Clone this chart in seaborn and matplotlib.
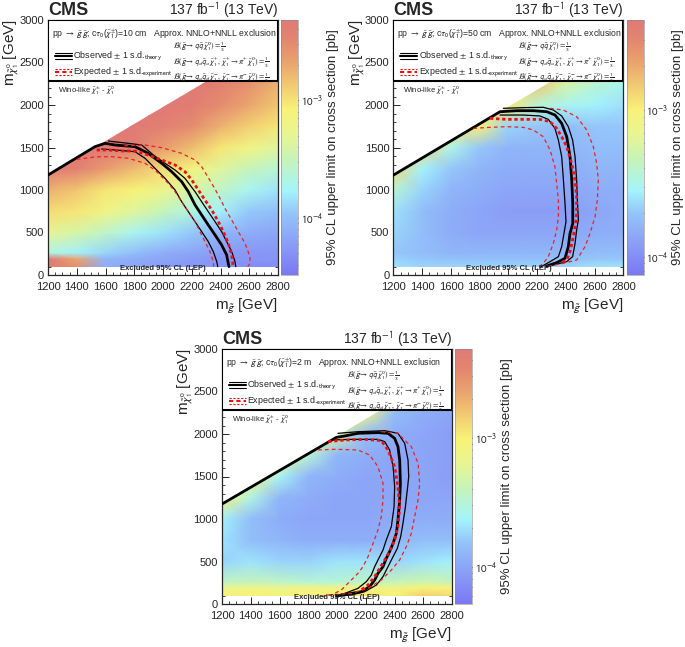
"""
CMS gluino -> chargino/neutralino exclusion limits for three chargino lifetimes
"""
import numpy as np
import matplotlib
matplotlib.use("Agg")
import matplotlib.pyplot as plt
from matplotlib.colors import LinearSegmentedColormap, LogNorm
from matplotlib.patches import Polygon, Rectangle
from matplotlib.ticker import MultipleLocator, LogLocator, NullFormatter
import seaborn as sns

sns.set_style("ticks")
plt.rcParams['font.family'] = ['Liberation Sans', 'DejaVu Sans']
plt.rcParams['mathtext.fontset'] = 'stixsans'

# grid of the limit maps
mg_nodes = [1200, 1400, 1600, 1800, 2000, 2200, 2400, 2600, 2800]
mchi_nodes = [100, 190, 260, 500, 750, 1000, 1250, 1500, 1750, 2000, 2250, 2500, 2750, 3000]

# log10 of the 95% CL upper limit on the cross section [pb], one row per mchi node
limit_10cm = [
    [-2.30, -2.55, -4.12, -4.17, -4.23, -4.28, -4.28, -4.34, -4.34],
    [-2.30, -2.70, -4.06, -4.12, -4.17, -4.23, -4.28, -4.28, -4.28],
    [-3.68, -3.79, -3.90, -4.01, -4.12, -4.17, -4.23, -4.28, -4.28],
    [-3.30, -3.41, -3.57, -3.73, -3.84, -3.95, -4.06, -4.12, -4.17],
    [-2.97, -3.02, -3.19, -3.35, -3.52, -3.68, -3.79, -3.95, -4.01],
    [-2.75, -2.86, -3.02, -3.08, -3.24, -3.41, -3.57, -3.73, -3.84],
    [-2.36, -2.42, -2.64, -2.80, -2.97, -3.13, -3.35, -3.52, -3.62],
    [-2.31, -2.31, -2.31, -2.42, -2.64, -2.80, -3.02, -3.19, -3.35],
    [-2.31, -2.31, -2.31, -2.31, -2.42, -2.53, -2.75, -2.91, -3.02],
    [-2.31, -2.31, -2.31, -2.31, -2.31, -2.36, -2.53, -2.69, -2.86],
    [-2.31, -2.31, -2.31, -2.31, -2.31, -2.31, -2.42, -2.58, -2.75],
    [-2.31, -2.31, -2.31, -2.31, -2.31, -2.31, -2.31, -2.47, -2.64],
    [-2.31, -2.31, -2.31, -2.31, -2.31, -2.31, -2.31, -2.31, -2.58],
    [-2.31, -2.31, -2.31, -2.31, -2.31, -2.31, -2.31, -2.31, -2.53],
]
limit_50cm = [
    [-3.61, -3.65, -3.65, -3.65, -3.65, -3.65, -3.65, -3.61, -3.61],
    [-3.65, -3.70, -3.72, -3.72, -3.72, -3.72, -3.72, -3.70, -3.70],
    [-3.70, -3.74, -3.78, -3.78, -3.78, -3.78, -3.78, -3.74, -3.74],
    [-3.65, -3.74, -3.83, -3.87, -3.87, -3.87, -3.87, -3.83, -3.83],
    [-3.61, -3.74, -3.83, -3.87, -3.92, -3.92, -3.92, -3.87, -3.83],
    [-3.43, -3.65, -3.79, -3.83, -3.87, -3.87, -3.87, -3.83, -3.83],
    [-2.90, -3.56, -3.70, -3.79, -3.83, -3.83, -3.83, -3.79, -3.79],
    [-2.90, -2.90, -3.48, -3.70, -3.79, -3.79, -3.79, -3.74, -3.74],
    [-2.90, -2.90, -2.90, -2.99, -3.65, -3.70, -3.74, -3.70, -3.70],
    [-2.90, -2.90, -2.90, -2.90, -2.95, -3.43, -3.52, -3.56, -3.61],
    [-2.90, -2.90, -2.90, -2.90, -2.90, -2.82, -3.26, -3.43, -3.52],
    [-2.90, -2.90, -2.90, -2.90, -2.90, -2.90, -2.82, -3.08, -3.35],
    [-2.90, -2.90, -2.90, -2.90, -2.90, -2.90, -2.90, -2.73, -2.99],
    [-2.90, -2.90, -2.90, -2.90, -2.90, -2.90, -2.90, -2.90, -2.64],
]
limit_2m = [
    [-3.05, -3.00, -3.05, -3.00, -3.00, -2.95, -3.00, -2.85, -2.90],
    [-3.15, -3.10, -3.15, -3.10, -3.10, -3.05, -3.10, -3.00, -3.00],
    [-3.45, -3.40, -3.45, -3.50, -3.50, -3.45, -3.40, -3.35, -3.40],
    [-3.75, -3.70, -3.75, -3.75, -3.70, -3.70, -3.75, -3.70, -3.65],
    [-3.70, -3.85, -3.90, -3.95, -3.95, -3.95, -3.90, -3.85, -3.85],
    [-3.65, -3.85, -3.95, -4.00, -4.00, -4.00, -3.95, -3.95, -3.95],
    [-3.00, -3.55, -3.90, -3.95, -4.00, -4.00, -4.00, -4.00, -4.00],
    [-3.00, -3.00, -3.60, -3.90, -3.95, -4.00, -4.00, -4.00, -4.05],
    [-3.00, -3.00, -3.00, -3.50, -3.90, -3.95, -4.00, -4.00, -4.05],
    [-3.00, -3.00, -3.00, -3.00, -3.30, -3.85, -3.95, -4.00, -4.05],
    [-3.00, -3.00, -3.00, -3.00, -3.00, -3.10, -3.85, -3.95, -4.00],
    [-3.00, -3.00, -3.00, -3.00, -3.00, -3.00, -3.10, -3.85, -3.95],
    [-3.00, -3.00, -3.00, -3.00, -3.00, -3.00, -3.00, -3.20, -3.90],
    [-3.00, -3.00, -3.00, -3.00, -3.00, -3.00, -3.00, -3.00, -3.30],
]

# exclusion contours, ctau = 10 cm
obs_10cm_x = [1200, 1527, 1597, 1666, 1805, 1898, 1991, 2060, 2130, 2176, 2223, 2269, 2315, 2362, 2408, 2443, 2454, 2459]
obs_10cm_y = [1176, 1510, 1549, 1529, 1510, 1431, 1314, 1216, 1098, 980, 824, 706, 588, 471, 353, 235, 137, 98]
obs_up_10cm_x = [1620, 1759, 1852, 1933, 2014, 2084, 2153, 2223, 2269, 2315, 2362, 2408, 2443, 2478, 2501, 2506]
obs_up_10cm_y = [1576, 1549, 1529, 1412, 1314, 1235, 1137, 980, 862, 745, 627, 510, 392, 274, 157, 98]
obs_dn_10cm_x = [1574, 1666, 1805, 1875, 1944, 2014, 2084, 2130, 2176, 2223, 2269, 2315, 2350, 2374, 2381]
obs_dn_10cm_y = [1482, 1471, 1451, 1373, 1255, 1137, 1000, 862, 745, 627, 510, 392, 274, 157, 98]
exp_10cm_x = [1539, 1620, 1713, 1805, 1898, 1991, 2084, 2153, 2200, 2246, 2292, 2339, 2385, 2420, 2454, 2478, 2485, 2487]
exp_10cm_y = [1471, 1471, 1459, 1459, 1412, 1353, 1294, 1215, 1118, 1000, 882, 765, 627, 510, 373, 235, 157, 100]
exp_up_10cm_x = [1730, 1875, 1991, 2130, 2223, 2269, 2304, 2339, 2385, 2431, 2478, 2524, 2571, 2605, 2605, 2590]
exp_up_10cm_y = [1520, 1529, 1498, 1431, 1353, 1274, 1176, 1078, 941, 784, 647, 510, 373, 216, 137, 98]
exp_dn_10cm_x = [1400, 1530, 1643, 1759, 1875, 1944, 1991, 2037, 2084, 2130, 2176, 2223, 2257, 2292, 2327, 2350, 2352]
exp_dn_10cm_y = [1360, 1390, 1392, 1373, 1314, 1235, 1157, 1078, 980, 862, 745, 627, 510, 392, 274, 157, 98]

# ctau = 50 cm
obs_50cm_x = [1200, 1941, 2057, 2173, 2266, 2324, 2370, 2405, 2428, 2440, 2447, 2447, 2428, 2416, 2393, 2335, 2266]
obs_50cm_y = [1176, 1921, 1933, 1933, 1921, 1882, 1784, 1627, 1392, 1118, 843, 608, 490, 333, 196, 145, 106]
obs_up_50cm_x = [1964, 2103, 2242, 2312, 2370, 2416, 2446, 2463, 2474, 2479, 2486, 2474, 2463, 2446, 2405, 2312, 2265]
obs_up_50cm_y = [1961, 1969, 1973, 1941, 1871, 1745, 1588, 1392, 1118, 882, 647, 529, 372, 216, 157, 118, 98]
obs_dn_50cm_x = [1941, 2103, 2219, 2277, 2323, 2347, 2370, 2382, 2393, 2400, 2386, 2370, 2347, 2289, 2219]
obs_dn_50cm_y = [1882, 1882, 1871, 1831, 1725, 1588, 1392, 1118, 843, 627, 490, 333, 216, 157, 90]
exp_50cm_x = [1871, 1987, 2103, 2219, 2289, 2335, 2370, 2405, 2439, 2463, 2474, 2474, 2463, 2446, 2428, 2405, 2358]
exp_50cm_y = [1843, 1831, 1831, 1831, 1804, 1725, 1627, 1510, 1314, 1118, 922, 725, 569, 412, 275, 176, 137]
exp_up_50cm_x = [2289, 2381, 2474, 2544, 2590, 2613, 2625, 2618, 2602, 2567, 2532, 2474, 2381, 2265]
exp_up_50cm_y = [1961, 1941, 1863, 1706, 1510, 1314, 1118, 882, 686, 490, 333, 176, 137, 98]
exp_dn_50cm_x = [1755, 1871, 1987, 2103, 2173, 2242, 2289, 2323, 2335, 2347, 2347, 2335, 2312, 2277, 2242, 2208]
exp_dn_50cm_y = [1725, 1737, 1745, 1737, 1706, 1627, 1471, 1274, 1078, 882, 686, 529, 372, 216, 137, 90]

# ctau = 2 m
obs_2m_x = [1200, 1996, 2053, 2146, 2285, 2355, 2401, 2424, 2436, 2441, 2436, 2424, 2413, 2390, 2366, 2343, 2320, 2285, 2262, 2227, 2169, 2100, 2030, 1996]
obs_2m_y = [1176, 1961, 1976, 2008, 2016, 2008, 1949, 1851, 1694, 1420, 1224, 988, 831, 714, 616, 537, 439, 361, 282, 204, 145, 125, 106, 90]
obs_up_2m_x = [2007, 2146, 2332, 2424, 2471, 2494, 2499, 2489, 2476, 2459, 2443, 2420, 2390, 2355, 2320, 2274, 2193, 2100, 2030]
obs_up_2m_y = [2008, 2027, 2039, 2008, 1890, 1694, 1498, 1341, 1145, 949, 792, 655, 557, 439, 322, 223, 145, 106, 95]
obs_dn_2m_x = [1961, 2100, 2285, 2332, 2366, 2390, 2401, 2397, 2378, 2343, 2320, 2285, 2262, 2239, 2204, 2146, 2054, 1996]
obs_dn_2m_y = [1929, 1937, 1937, 1910, 1812, 1616, 1380, 1145, 910, 753, 635, 518, 439, 341, 263, 184, 125, 98]
exp_2m_x = [1938, 2053, 2193, 2308, 2355, 2401, 2424, 2436, 2424, 2401, 2366, 2332, 2297, 2262, 2216, 2169]
exp_2m_y = [1910, 1929, 1937, 1922, 1812, 1616, 1380, 1145, 910, 753, 616, 518, 420, 322, 223, 165]
exp_up_2m_x = [2308, 2424, 2517, 2564, 2575, 2564, 2540, 2517, 2482, 2436, 2378, 2308, 2216, 2100, 1938]
exp_up_2m_y = [2027, 2008, 1851, 1655, 1420, 1224, 1027, 831, 674, 518, 400, 282, 184, 125, 106]
exp_dn_2m_x = [1868, 1984, 2146, 2227, 2285, 2320, 2320, 2308, 2285, 2251, 2216, 2181, 2146, 2088, 2030, 1961, 1891]
exp_dn_2m_y = [1812, 1820, 1812, 1753, 1616, 1420, 1224, 1027, 871, 714, 557, 439, 361, 263, 165, 106, 86]

cmap = LinearSegmentedColormap.from_list("root_pastel", [
    (0.00, "#7a78f4"), (0.12, "#8a9ef6"), (0.24, "#94c4fa"), (0.33, "#a4f4fc"),
    (0.45, "#c6f4b8"), (0.56, "#eaf590"), (0.65, "#f8f278"), (0.74, "#f2cc72"),
    (0.84, "#e9a16e"), (0.93, "#e3846f"), (1.00, "#e07a76")])


def draw_panel(ax, cax, limits, zlog, ctau, contours):
    X, Y = np.meshgrid(mg_nodes, mchi_nodes)
    norm = LogNorm(vmin=10 ** zlog[0], vmax=10 ** zlog[1])
    mesh = ax.pcolormesh(X, Y, 10.0 ** np.array(limits), shading='gouraud',
                         cmap=cmap, norm=norm, zorder=1)
    mesh.set_clip_path(Polygon([(1200, 100), (2800, 100), (2800, 2775), (1200, 1175)],
                               closed=True, transform=ax.transData))

    (ox, oy), (oux, ouy), (odx, ody), (ex, ey), (eux, euy), (edx, edy) = contours
    for x, y in [(oux, ouy), (odx, ody)]:
        sns.lineplot(x=x, y=y, ax=ax, sort=False, estimator=None, color='black', lw=0.9, zorder=3)
    sns.lineplot(x=ox, y=oy, ax=ax, sort=False, estimator=None, color='black', lw=2.0, zorder=3)
    for x, y in [(eux, euy), (edx, edy)]:
        sns.lineplot(x=x, y=y, ax=ax, sort=False, estimator=None, color='#ee2020', lw=0.9,
                     linestyle=(0, (3, 2.5)), zorder=4)
    sns.lineplot(x=ex, y=ey, ax=ax, sort=False, estimator=None, color='#ee1010', lw=2.0,
                 linestyle=(0, (1.2, 1.0)), zorder=4)

    ax.set_xlim(1200, 2800)
    ax.set_ylim(0, 3000)
    ax.set_xlabel('')
    ax.set_ylabel('')
    ax.xaxis.set_major_locator(MultipleLocator(200))
    ax.xaxis.set_minor_locator(MultipleLocator(50))
    ax.yaxis.set_major_locator(MultipleLocator(500))
    ax.yaxis.set_minor_locator(MultipleLocator(100))
    ax.tick_params(which='both', direction='in', top=False, right=True, labelsize=8)
    ax.tick_params(axis='x', pad=5)
    ax.tick_params(axis='y', pad=3)
    ax.tick_params(which='major', length=5, width=0.7)
    ax.tick_params(which='minor', length=2.5, width=0.6)
    for s in ax.spines.values():
        s.set_linewidth(0.9)

    # header box
    ax.add_patch(Rectangle((0, 0.761), 1, 0.239, transform=ax.transAxes, facecolor='white',
                           edgecolor='black', lw=1.5, zorder=5))
    ax.text(0.017, 0.945, r'pp $\rightarrow$ $\tilde{g}\,\tilde{g}$; c$\tau_{0}$($\tilde{\chi}^{\pm}_{1}$)=' + ctau
            + '   Approx. NNLO+NNLL exclusion', transform=ax.transAxes, fontsize=6.2, va='center', zorder=6)
    for dy, lw in [(0.012, 0.8), (0.0, 1.5), (-0.012, 0.8)]:
        ax.plot([0.03, 0.104], [0.859 + dy] * 2, transform=ax.transAxes, color='black', lw=lw, zorder=6)
        ax.plot([0.03, 0.104], [0.796 + dy] * 2, transform=ax.transAxes, color='#ee1010', lw=lw,
                linestyle=(0, (2, 1.5)), zorder=6)
    ax.text(0.109, 0.859, r'Observed $\pm$ 1 s.d.$_{\rm theory}$', transform=ax.transAxes,
            fontsize=6.4, va='center', zorder=6)
    ax.text(0.109, 0.796, r'Expected $\pm$ 1 s.d.$_{\rm experiment}$', transform=ax.transAxes,
            fontsize=6.4, va='center', zorder=6)
    ax.text(0.543, 0.894, r'$\mathcal{B}(\tilde{g}\rightarrow q\,\bar{q}\,\tilde{\chi}^{0}_{1}) = \frac{1}{3}$',
            transform=ax.transAxes, fontsize=5.5, va='center', zorder=6)
    ax.text(0.543, 0.835, r'$\mathcal{B}(\tilde{g}\rightarrow q_{d}\,\bar{q}_{u}\,\tilde{\chi}^{+}_{1},\,'
            r'\tilde{\chi}^{+}_{1}\rightarrow \pi^{+}\,\tilde{\chi}^{0}_{1}) = \frac{1}{3}$',
            transform=ax.transAxes, fontsize=5.5, va='center', zorder=6)
    ax.text(0.543, 0.776, r'$\mathcal{B}(\tilde{g}\rightarrow q_{u}\,\bar{q}_{d}\,\tilde{\chi}^{-}_{1},\,'
            r'\tilde{\chi}^{-}_{1}\rightarrow \pi^{-}\,\tilde{\chi}^{0}_{1}) = \frac{1}{3}$',
            transform=ax.transAxes, fontsize=5.5, va='center', zorder=6)

    ax.text(0.043, 0.725, r'Wino-like $\tilde{\chi}^{\pm}_{1}$ - $\tilde{\chi}^{0}_{1}$',
            transform=ax.transAxes, fontsize=5.5, va='center', zorder=6)
    ax.text(0.5, 0.025, 'Excluded 95% CL (LEP)', transform=ax.transAxes, fontsize=5.5,
            fontweight='bold', ha='center', va='center', zorder=6)

    ax.text(0.0, 1.02, 'CMS', transform=ax.transAxes, fontsize=13, fontweight='bold', va='baseline')
    ax.text(1.0, 1.02, r'137 fb$^{-1}$ (13 TeV)', transform=ax.transAxes, fontsize=10, ha='right',
            va='baseline')
    ax.text(-0.157, 1.005, r'm$_{\tilde{\chi}^{0}_{1}}$ [GeV]', transform=ax.transAxes, fontsize=11,
            rotation=90, ha='center', va='top')
    ax.text(1.0, -0.125, r'm$_{\tilde{g}}$ [GeV]', transform=ax.transAxes, fontsize=11, ha='right',
            va='center')

    cb = plt.colorbar(mesh, cax=cax)
    cb.outline.set_linewidth(0.4)
    cb.outline.set_edgecolor('#888888')
    cb.set_ticks([1e-4, 1e-3], labels=[r'$10^{-4}$', r'$10^{-3}$'])
    cb.minorlocator = LogLocator(subs=np.arange(2, 10))
    cb.minorformatter = NullFormatter()
    cax.tick_params(which='both', direction='in', labelsize=8, pad=2)
    cax.tick_params(which='major', length=6, width=0.7)
    cax.tick_params(which='minor', length=3, width=0.6)
    cax.text(3.05, 0.5, '95% CL upper limit on cross section [pb]', transform=cax.transAxes,
             fontsize=9.5, rotation=90, ha='center', va='center')


fig = plt.figure(figsize=(6.85, 6.47), dpi=100)
W, H = 685.0, 647.0


def axes_at(x0, y_top, w, h):
    return fig.add_axes([x0 / W, 1 - (y_top + h) / H, w / W, h / H])


panels = [
    (0.0, 0.0, limit_10cm, (-4.485, -2.32), '10 cm',
     [(obs_10cm_x, obs_10cm_y), (obs_up_10cm_x, obs_up_10cm_y), (obs_dn_10cm_x, obs_dn_10cm_y),
      (exp_10cm_x, exp_10cm_y), (exp_up_10cm_x, exp_up_10cm_y), (exp_dn_10cm_x, exp_dn_10cm_y)]),
    (345.5, 0.0, limit_50cm, (-4.125, -2.386), '50 cm',
     [(obs_50cm_x, obs_50cm_y), (obs_up_50cm_x, obs_up_50cm_y), (obs_dn_50cm_x, obs_dn_50cm_y),
      (exp_50cm_x, exp_50cm_y), (exp_up_50cm_x, exp_up_50cm_y), (exp_dn_50cm_x, exp_dn_50cm_y)]),
    (174.0, 329.0, limit_2m, (-4.287, -2.31), '2 m',
     [(obs_2m_x, obs_2m_y), (obs_up_2m_x, obs_up_2m_y), (obs_dn_2m_x, obs_dn_2m_y),
      (exp_2m_x, exp_2m_y), (exp_up_2m_x, exp_up_2m_y), (exp_dn_2m_x, exp_dn_2m_y)]),
]

for dx, dy, limits, zlog, ctau, contours in panels:
    ax = axes_at(48 + dx, 20 + dy, 230, 255)
    cax = axes_at(281 + dx, 20 + dy, 17, 255)
    draw_panel(ax, cax, limits, zlog, ctau, contours)

fig.savefig('out.png', dpi=100)
